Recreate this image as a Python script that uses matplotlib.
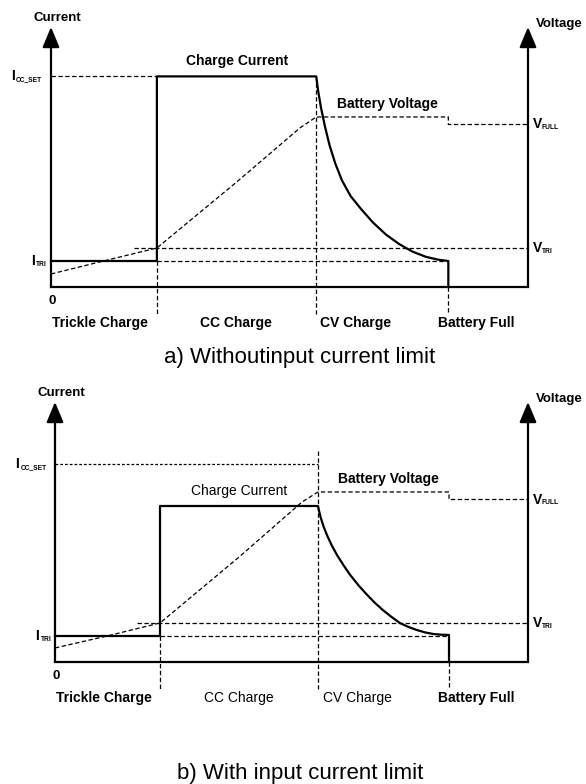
import matplotlib
matplotlib.use("Agg")
import matplotlib.pyplot as plt

plt.rcParams["font.family"] = ["Liberation Sans", "DejaVu Sans"]

# time axis: left axis = 0, right (voltage) axis = 10
T_TRICKLE_END = 2.22
T_CC_END = 5.56
T_CV_END = 8.33
T_AXIS_END = 10.0
LEVEL_TOP = 100

PHASE_NAMES = ["Trickle Charge", "CC Charge", "CV Charge", "Battery Full"]
PHASE_LABEL_T = [1.03, 3.88, 6.39, 8.91]

I_TRI = 10
V_TRI = 15
V_FULL = 62.5
V_CV = 65.4  # battery voltage during CV charge

# a) without input current limit
A_I_CC_SET = 81
A_I_CHARGE = 81
A_DECAY_T = [5.56, 5.60, 5.66, 5.74, 5.84, 5.96, 6.10, 6.28, 6.50, 6.75,
             7.02, 7.30, 7.58, 7.86, 8.12, 8.33]
A_DECAY_I = [81, 75.5, 69.0, 62.0, 54.5, 47.5, 41.0, 35.0, 30.0, 24.8,
             20.2, 16.5, 13.6, 11.6, 10.5, 10]
A_VBAT_T = [0, 1.1, 2.22, 3.9, 5.22, 5.56]
A_VBAT = [5.0, 10.0, 15.0, 40.5, 61.2, 65.4]

# b) with input current limit
B_I_CC_SET = 76.2
B_I_CHARGE = 60
B_DECAY_T = [5.56, 5.58, 5.62, 5.68, 5.75, 5.85, 5.96, 6.10, 6.24, 6.42, 6.60,
             6.76, 6.93, 7.11, 7.29, 7.47, 7.65, 7.82, 7.99, 8.16, 8.33]
B_DECAY_I = [60, 58.3, 55.4, 52.0, 48.8, 44.9, 41.2, 37.2, 33.5, 29.4, 25.8,
             22.8, 20.0, 17.4, 15.0, 13.5, 12.3, 11.4, 10.8, 10.5, 10.4]
B_VBAT_T = [0, 1.1, 2.22, 3.9, 5.22, 5.56]
B_VBAT = [5.4, 10.0, 15.0, 40.5, 61.5, 65.4]

DASH = (0, (3.5, 2))
FINE_DASH = (0, (2.2, 1.6))
LW_AXIS = 1.6
LW_DASH = 0.9


def axis_arrow(ax, t):
    ax.annotate("", xy=(t, LEVEL_TOP), xytext=(t, 0),
                arrowprops=dict(arrowstyle="-|>,head_length=0.62,head_width=0.26",
                                mutation_scale=20, lw=LW_AXIS, color="black",
                                shrinkA=0, shrinkB=0))


def sub_label(ax, t, level, main, sub, gap):
    ax.text(t, level, main, fontsize=10, fontweight="bold", ha="left", va="center")
    ax.annotate(sub, xy=(t, level), xytext=(gap, -2.5), textcoords="offset points",
                fontsize=4.8, fontweight="bold", ha="left", va="center")


def draw_panel(ax, i_cc_set, i_charge, decay_t, decay_i, vbat_t, vbat,
               icc_dash_end, icc_dash, light):
    # axes
    axis_arrow(ax, 0)
    axis_arrow(ax, T_AXIS_END)
    ax.plot([0, T_AXIS_END], [0, 0], color="black", lw=LW_AXIS,
            solid_capstyle="projecting")

    # charge current
    cur_t = [0, T_TRICKLE_END, T_TRICKLE_END] + decay_t + [T_CV_END]
    cur_i = [I_TRI, I_TRI, i_charge] + decay_i + [0]
    ax.plot(cur_t, cur_i, color="black", lw=LW_AXIS, solid_joinstyle="round")

    # battery voltage
    v_t = vbat_t + [T_CV_END, T_CV_END, T_AXIS_END]
    v_l = vbat + [V_CV, V_FULL, V_FULL]
    ax.plot(v_t, v_l, color="black", lw=LW_DASH, linestyle=DASH)

    # reference levels
    ax.plot([0, icc_dash_end], [i_cc_set, i_cc_set], color="black", lw=LW_DASH,
            linestyle=icc_dash)
    ax.plot([T_TRICKLE_END, T_CV_END], [I_TRI, I_TRI], color="black", lw=LW_DASH,
            linestyle=DASH)
    ax.plot([1.73, T_AXIS_END], [V_TRI, V_TRI], color="black", lw=LW_DASH,
            linestyle=DASH)

    # phase dividers
    ax.plot([T_TRICKLE_END, T_TRICKLE_END], [I_TRI, -10.4], color="black",
            lw=LW_DASH, linestyle=DASH)
    ax.plot([T_CC_END, T_CC_END], [81, -10.4], color="black", lw=LW_DASH,
            linestyle=DASH)
    ax.plot([T_CV_END, T_CV_END], [0, -10.4], color="black", lw=LW_DASH,
            linestyle=DASH)

    # texts
    ax.text(0.13, 103.5, "Current", fontsize=9.5, fontweight="bold",
            ha="center", va="center")
    ax.text(10.17, 101, "Voltage", fontsize=9.5, fontweight="bold",
            ha="left", va="center")
    ax.text(0.03, -5.3, "0", fontsize=9.5, fontweight="bold",
            ha="center", va="center")
    ax.text(3.9, i_charge + 5.8, "Charge Current", fontsize=10,
            fontweight="normal" if light else "bold", ha="center", va="center")
    ax.text(7.05, 70.3, "Battery Voltage", fontsize=10, fontweight="bold",
            ha="center", va="center")

    sub_label(ax, -0.84, i_cc_set, "I", "CC_SET", 3.6)
    sub_label(ax, -0.41, I_TRI, "I", "TRI", 3.6)
    sub_label(ax, 10.1, V_FULL, "V", "FULL", 6.6)
    sub_label(ax, 10.1, V_TRI, "V", "TRI", 6.6)

    for name, t in zip(PHASE_NAMES, PHASE_LABEL_T):
        weight = "bold"
        if light and name in ("CC Charge", "CV Charge"):
            weight = "normal"
        ax.text(t, -13.8, name, fontsize=10, fontweight=weight,
                ha="center", va="center")

    ax.axis("off")


fig = plt.figure(figsize=(5.86, 7.84), dpi=100)

ax_a = fig.add_axes([0, 409 / 784, 1, 375 / 784])
draw_panel(ax_a, A_I_CC_SET, A_I_CHARGE, A_DECAY_T, A_DECAY_I, A_VBAT_T, A_VBAT,
           T_TRICKLE_END, DASH, light=False)
ax_a.set_xlim(-51 / 47.7, 535 / 47.7)
ax_a.set_ylim(-88 / 2.6, 287 / 2.6)

ax_b = fig.add_axes([0, 0, 1, 409 / 784])
draw_panel(ax_b, B_I_CC_SET, B_I_CHARGE, B_DECAY_T, B_DECAY_I, B_VBAT_T, B_VBAT,
           T_CC_END, FINE_DASH, light=True)
ax_b.set_xlim(-55 / 47.3, 531 / 47.3)
ax_b.set_ylim(-122 / 2.6, 287 / 2.6)

fig.text(300 / 586, 1 - 358 / 784, "a) Withoutinput current limit",
         fontsize=16, ha="center", va="center")
fig.text(300 / 586, 1 - 773 / 784, "b) With input current limit",
         fontsize=16, ha="center", va="center")

fig.savefig("out.png", dpi=100, facecolor="white")
